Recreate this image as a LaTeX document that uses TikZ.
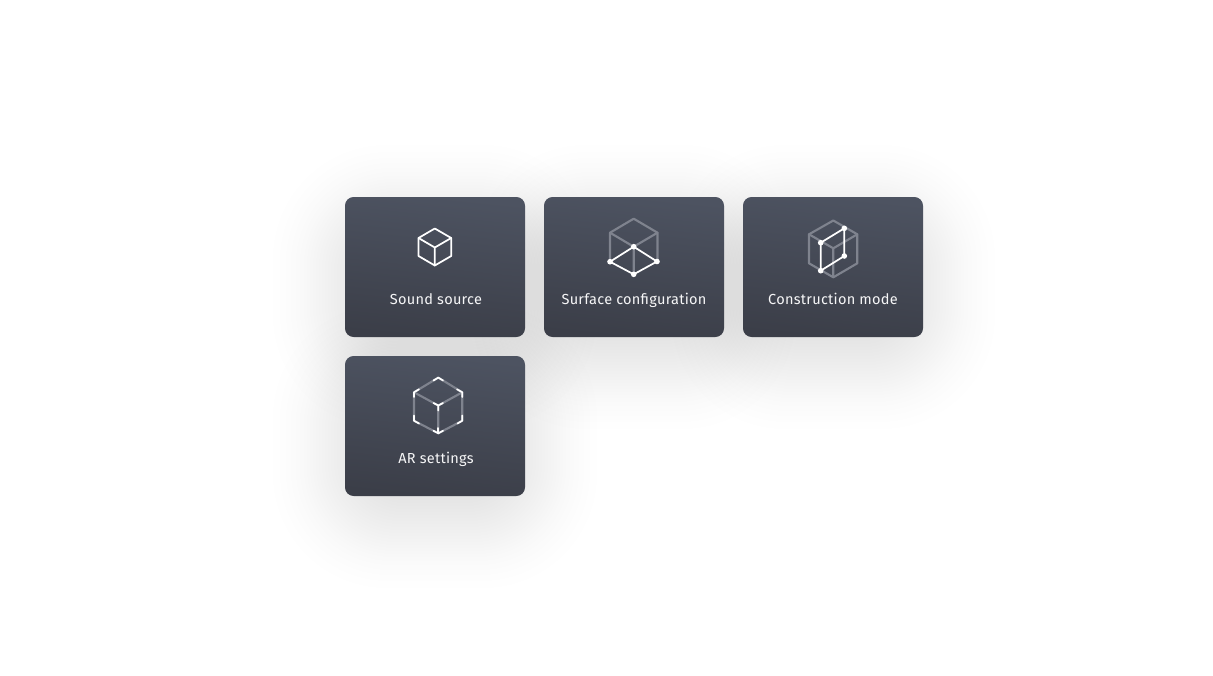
\documentclass[tikz,border=0pt]{standalone}
\usepackage{fontspec}
\newfontfamily\cardfont[LetterSpace=1.8]{Fira Sans}
\definecolor{cardtop}{HTML}{4D5361}
\definecolor{cardbot}{HTML}{3B3E48}
\definecolor{edgegrey}{HTML}{7F838E}
\definecolor{labelwhite}{HTML}{F6F6F7}
\tikzset{
  x=0.75pt,y=-0.75pt,
  cardbox/.style={minimum width=135pt,minimum height=105pt,inner sep=0pt,outer sep=0pt,rounded corners=6.5pt,
    top color=cardtop,bottom color=cardbot,shading angle=-6},
  cardlabel/.style={text=labelwhite,font=\cardfont\fontsize{10.9pt}{13pt}\selectfont,inner sep=0pt,anchor=base},
  greyedge/.style={draw=edgegrey,line width=1.6pt,line join=round,line cap=round},
  whiteedge/.style={draw=white,line width=1.3pt,line join=round,line cap=round},
  vertexdot/.style={circle,fill=white,minimum size=4.2pt,inner sep=0pt,outer sep=0pt},
}
\newcommand{\softshadow}[2]{%
  \foreach \e in {72,65,59,54,49,45,41,38,35,32,29,26,23,20,17,14,11,8,5,2,-1,-4,-7,-10,-13,-16,-19,-22,-25,-28,-31,-34}{%
    \fill[black,opacity=0.0052,rounded corners={(70+\e)*0.8*0.75pt}]
      ({#1-90-\e},{#2-70+20-\e}) rectangle ({#1+90+\e},{#2+70+20+\e});
  }%
}
\begin{document}
\begin{tikzpicture}
\useasboundingbox (0,0) rectangle (1213,675);
\fill[white] (0,0) rectangle (1213,675);
\softshadow{435}{267}
\softshadow{634}{267}
\softshadow{833}{267}
\softshadow{435}{426}
\node[cardbox] (c1) at (435,267) {};
\node[cardbox] (c2) at (634,267) {};
\node[cardbox] (c3) at (833,267) {};
\node[cardbox] (c4) at (435,426) {};
\node[cardlabel] (t1) at (436,304) {Sound source};
\node[cardlabel] (t2) at (634,304) {Surface configuration};
\node[cardlabel] (t3) at (833,304) {Construction mode};
\node[cardlabel] (t4) at (436,463) {AR settings};
% icon 1
\draw[whiteedge] (434.8,228.5) -- (451.2,238) -- (451.2,256) -- (434.8,265.5) -- (418.5,256) -- (418.5,238) -- cycle;
\draw[whiteedge] (418.5,238) -- (434.8,247.5) -- (451.2,238) (434.8,247.5) -- (434.8,265.5);
% icon 2
\draw[greyedge] (610,261.7) -- (610,232.7) -- (633.7,218.7) -- (657.5,232.7) -- (657.5,261.7);
\draw[greyedge] (610,232.7) -- (633.7,246.7) -- (657.5,232.7) (633.7,246.7) -- (633.7,274.3);
\node[vertexdot] (a1) at (633.7,246.7) {};
\node[vertexdot] (a2) at (657,261.5) {};
\node[vertexdot] (a3) at (633.7,274.3) {};
\node[vertexdot] (a4) at (610,261.7) {};
\draw[whiteedge] (a1.center) -- (a2.center) -- (a3.center) -- (a4.center) -- cycle;
% icon 3
\draw[greyedge] (833.3,220.5) -- (857.3,234.3) -- (857.3,263.3) -- (833.3,277.3) -- (809,263.3) -- (809,234.3) -- cycle;
\draw[greyedge] (809,234.3) -- (833.3,248.3) -- (857.3,234.3) (833.3,248.3) -- (833.3,277.3);
\node[vertexdot] (b1) at (820.7,242.7) {};
\node[vertexdot] (b2) at (844.3,228.3) {};
\node[vertexdot] (b3) at (844.3,256) {};
\node[vertexdot] (b4) at (820.7,270.7) {};
\draw[whiteedge] (b1.center) -- (b2.center) -- (b3.center) -- (b4.center) -- cycle;
% icon 4
\draw[greyedge] (438.3,377.6) -- (462.3,392.3) -- (462.3,420.7) -- (438.3,433.3) -- (414,420.7) -- (414,392.3) -- cycle;
\draw[greyedge] (414,392.3) -- (438.3,405.5) -- (462.3,392.3) (438.3,405.5) -- (438.3,433.3);
\draw[whiteedge] (433.5,380.5) -- (438.3,377.6) -- (443,380.5);
\draw[whiteedge] (457,389.3) -- (462.3,392.3) -- (462.3,397);
\draw[whiteedge] (462.3,415.5) -- (462.3,420.7) -- (457.5,423.5);
\draw[whiteedge] (443,430.8) -- (438.3,433.3) -- (433.5,430.8);
\draw[whiteedge] (438.3,428) -- (438.3,433.3);
\draw[whiteedge] (419,423.5) -- (414,420.7) -- (414,415.5);
\draw[whiteedge] (414,397) -- (414,392.3) -- (419,389.3);
\draw[whiteedge] (433.5,403) -- (438.3,405.5) -- (443,403) (438.3,405.5) -- (438.3,410.5);
\end{tikzpicture}
\end{document}
